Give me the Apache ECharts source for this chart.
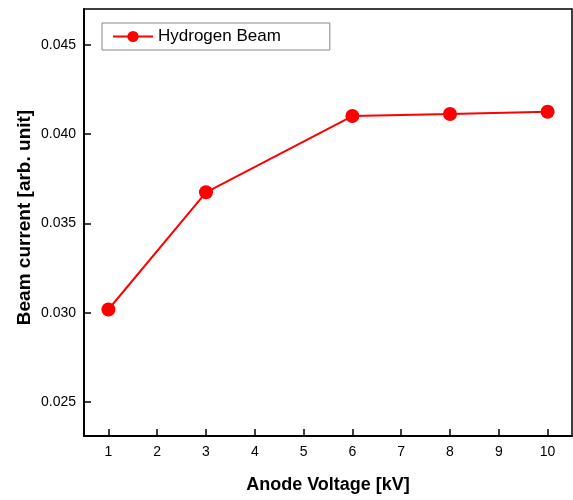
<!DOCTYPE html>
<html>
	<head>
		<meta charset="utf-8" />
		<title>Beam current</title>
		<script src="https://cdn.jsdelivr.net/npm/echarts@6/dist/echarts.min.js"></script>
		<style>
			html, body { margin: 0; padding: 0; background: #fff; }
			#main { width: 573px; height: 500px; }
		</style>
	</head>
	<body>
		<div id="main"></div>
	</body>
	<script type="text/javascript">
		// 数据
		var voltage = [1, 3, 6, 8, 10];
		var current = [0.03018, 0.03674, 0.04101, 0.04112, 0.04125];
		var xTicks = [1, 2, 3, 4, 5, 6, 7, 8, 9, 10];
		var yTicks = [0.025, 0.030, 0.035, 0.040, 0.045];

		var font = 'Liberation Sans, Arial, sans-serif';
		var myCharts = echarts.init(document.getElementById("main"));
		var option = {
			animation: false,
			legend: {
				left: 102,
				top: 23,
				padding: [5, 49, 5, 10],
				borderColor: '#888',
				borderWidth: 1,
				itemWidth: 40,
				itemHeight: 14,
				textStyle: { fontFamily: font, fontSize: 17, color: '#000' },
				data: ['Hydrogen Beam']
			},
			grid: {
				left: 84,
				top: 9,
				right: 1,
				bottom: 64,
				show: true,
				borderColor: '#000',
				borderWidth: 1.5
			},
			xAxis: {
				type: 'value',
				min: 0.5,
				max: 10.5,
				name: 'Anode Voltage [kV]',
				nameLocation: 'middle',
				nameGap: 40,
				nameTextStyle: { fontFamily: font, fontSize: 18, fontWeight: 'bold', color: '#000' },
				axisLine: { lineStyle: { color: '#000', width: 2 } },
				axisTick: { inside: true, length: 7, customValues: xTicks, lineStyle: { color: '#000', width: 1.5 } },
				axisLabel: { customValues: xTicks, fontFamily: font, fontSize: 14, color: '#000', margin: 9 },
				splitLine: { show: false }
			},
			yAxis: {
				type: 'value',
				min: 0.0231,
				max: 0.047,
				name: 'Beam current [arb. unit]',
				nameLocation: 'middle',
				nameGap: 50,
				nameMoveOverlap: false,
				nameTextStyle: { fontFamily: font, fontSize: 19, fontWeight: 'bold', color: '#000', padding: [0, 0, 0, 10] },
				axisLine: { show: true, lineStyle: { color: '#000', width: 2 } },
				axisTick: { show: true, inside: true, length: 7, customValues: yTicks, lineStyle: { color: '#000', width: 1.5 } },
				axisLabel: {
					customValues: yTicks,
					fontFamily: font, fontSize: 14, color: '#000', margin: 8,
					formatter: function (v) { return v.toFixed(3); }
				},
				splitLine: { show: false }
			},
			series: [{
				name: 'Hydrogen Beam',
				type: 'line',
				data: voltage.map(function (v, i) { return [v, current[i]]; }),
				symbol: 'circle',
				symbolSize: 14,
				lineStyle: { color: '#ff0000', width: 2 },
				itemStyle: { color: '#ff0000' }
			}]
		};
		myCharts.setOption(option);
	</script>
</html>
